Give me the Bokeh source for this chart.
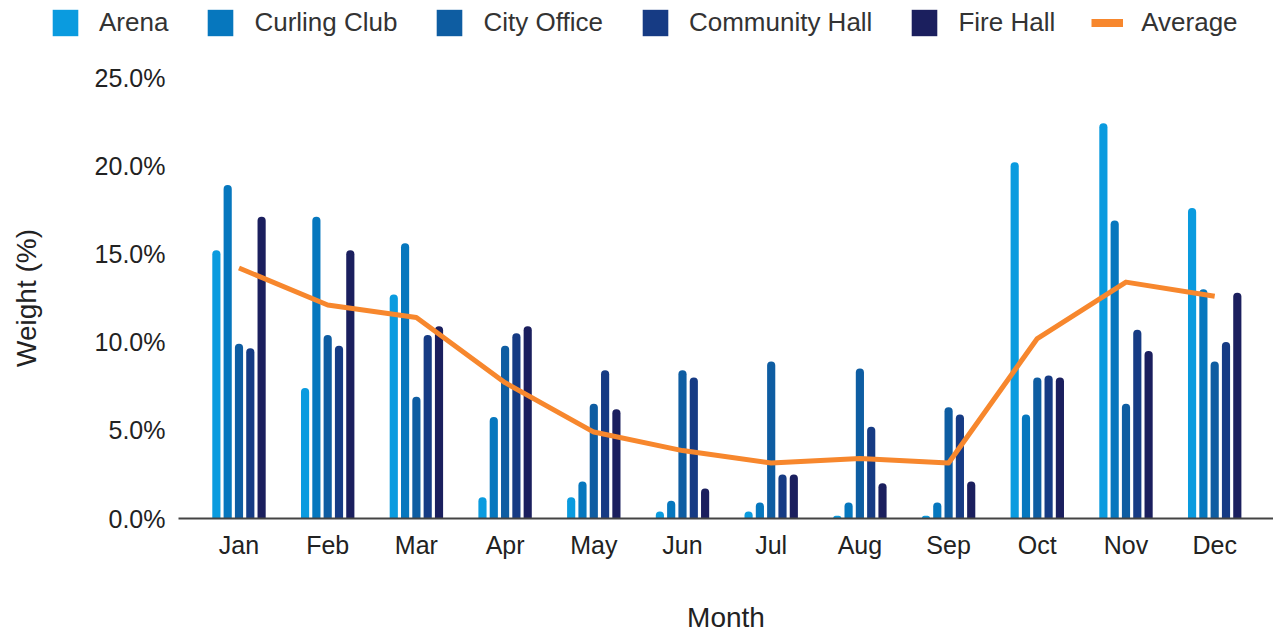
from bokeh.plotting import figure
from bokeh.layouts import column
from bokeh.models import (Range1d, FixedTicker, PrintfTickFormatter, Legend, LegendItem,
                          ColumnDataSource)
from bokeh.embed import file_html
from bokeh.resources import INLINE

months = ["Jan", "Feb", "Mar", "Apr", "May", "Jun", "Jul", "Aug", "Sep", "Oct", "Nov", "Dec"]
series_names = ["Arena", "Curling Club", "City Office", "Community Hall", "Fire Hall"]
arena = [15.2, 7.4, 12.7, 1.2, 1.2, 0.4, 0.4, 0.15, 0.15, 20.2, 22.4, 17.6]
curling = [18.9, 17.1, 15.6, 5.75, 2.1, 1.0, 0.9, 0.9, 0.9, 5.9, 16.9, 13.0]
city = [9.9, 10.4, 6.9, 9.8, 6.5, 8.4, 8.9, 8.5, 6.3, 8.0, 6.5, 8.9]
community = [9.65, 9.8, 10.4, 10.5, 8.4, 8.0, 2.5, 5.2, 5.9, 8.1, 10.7, 10.0]
fire = [17.1, 15.2, 10.9, 10.9, 6.2, 1.7, 2.5, 2.0, 2.1, 8.0, 9.5, 12.8]
average = [14.2, 12.1, 11.4, 7.7, 4.9, 3.85, 3.15, 3.4, 3.15, 10.2, 13.4, 12.6]
y_ticks = [0, 5, 10, 15, 20, 25]

colors = ["#0A9BDF", "#0677BE", "#0E5DA2", "#163B84", "#1B1F5E"]
avg_color = "#F7872D"
FONT = "Liberation Sans"

LEG_H = 45

# ---- main chart ----
p = figure(width=1273, height=635 - LEG_H, output_backend="svg", toolbar_location=None,
           x_range=Range1d(-0.682, 11.663), y_range=Range1d(0, 25),
           min_border_left=178, min_border_right=0, min_border_top=77 - LEG_H,
           min_border_bottom=115)
p.frame_align = False
p.outline_line_color = None
p.xgrid.visible = False
p.ygrid.visible = False

xs = list(range(len(months)))
all_series = [arena, curling, city, community, fire]
offsets = [-0.255, -0.1275, 0.0, 0.1275, 0.255]
for name, vals, col, off in zip(series_names, all_series, colors, offsets):
    src = ColumnDataSource(dict(x=[i + off for i in xs], top=vals))
    p.vbar(x="x", top="top", bottom=0, width=0.092, source=src,
           fill_color=col, line_color=None, border_radius=(4, 4, 0, 0))

lsrc = ColumnDataSource(dict(x=xs, y=average))
p.line(x="x", y="y", source=lsrc, line_color=avg_color, line_width=5, line_join="round")

# axes
p.xaxis.ticker = FixedTicker(ticks=xs)
p.xaxis.major_label_overrides = {i: m for i, m in enumerate(months)}
p.xaxis.axis_line_color = "#444444"
p.xaxis.axis_line_width = 2
p.xaxis.major_tick_line_color = None
p.xaxis.minor_tick_line_color = None
p.xaxis.major_tick_out = 0
p.xaxis.major_tick_in = 0
p.xaxis.major_label_standoff = 12
p.xaxis.major_label_text_font = FONT
p.xaxis.major_label_text_font_size = "25px"
p.xaxis.major_label_text_color = "#222222"
p.xaxis.axis_label = "Month"
p.xaxis.axis_label_text_font = FONT
p.xaxis.axis_label_text_font_size = "28px"
p.xaxis.axis_label_text_font_style = "normal"
p.xaxis.axis_label_text_color = "#222222"
p.xaxis.axis_label_standoff = 40

p.yaxis.ticker = FixedTicker(ticks=y_ticks)
p.yaxis.formatter = PrintfTickFormatter(format="%.1f%%")
p.yaxis.axis_line_color = None
p.yaxis.major_tick_line_color = None
p.yaxis.minor_tick_line_color = None
p.yaxis.major_tick_out = 0
p.yaxis.major_tick_in = 0
p.yaxis.major_label_standoff = 13
p.yaxis.major_label_text_font = FONT
p.yaxis.major_label_text_font_size = "25px"
p.yaxis.major_label_text_color = "#222222"
p.yaxis.axis_label = "Weight (%)"
p.yaxis.axis_label_text_font = FONT
p.yaxis.axis_label_text_font_size = "28px"
p.yaxis.axis_label_text_font_style = "normal"
p.yaxis.axis_label_text_color = "#222222"
p.yaxis.axis_label_standoff = 50

# ---- legend strip (swatch renderers sit outside the visible range) ----
lg = figure(width=1273, height=LEG_H, output_backend="svg", toolbar_location=None,
            x_range=Range1d(0, 1), y_range=Range1d(0, 1),
            min_border_left=0, min_border_right=0, min_border_top=0, min_border_bottom=0)
lg.frame_align = False
lg.axis.visible = False
lg.grid.visible = False
lg.outline_line_color = None
items = []
for name, col in zip(series_names, colors):
    r = lg.vbar(x=[-5], top=[-5], bottom=-6, width=0.1, fill_color=col, line_color=None)
    items.append(LegendItem(label=name, renderers=[r]))
r = lg.line(x=[-6, -5], y=[-5, -5], line_color=avg_color, line_width=8)
items.append(LegendItem(label="Average", renderers=[r]))
legend = Legend(items=items, orientation="horizontal", location=(49, 6),
                glyph_width=32, glyph_height=33, label_standoff=18, spacing=36,
                label_text_font=FONT, label_text_font_size="26px", label_text_color="#333333",
                border_line_color=None, background_fill_alpha=0, padding=0, margin=0)
lg.add_layout(legend, "center")

layout = column(lg, p, spacing=0)
open("out.html", "w").write(file_html(layout, INLINE))
